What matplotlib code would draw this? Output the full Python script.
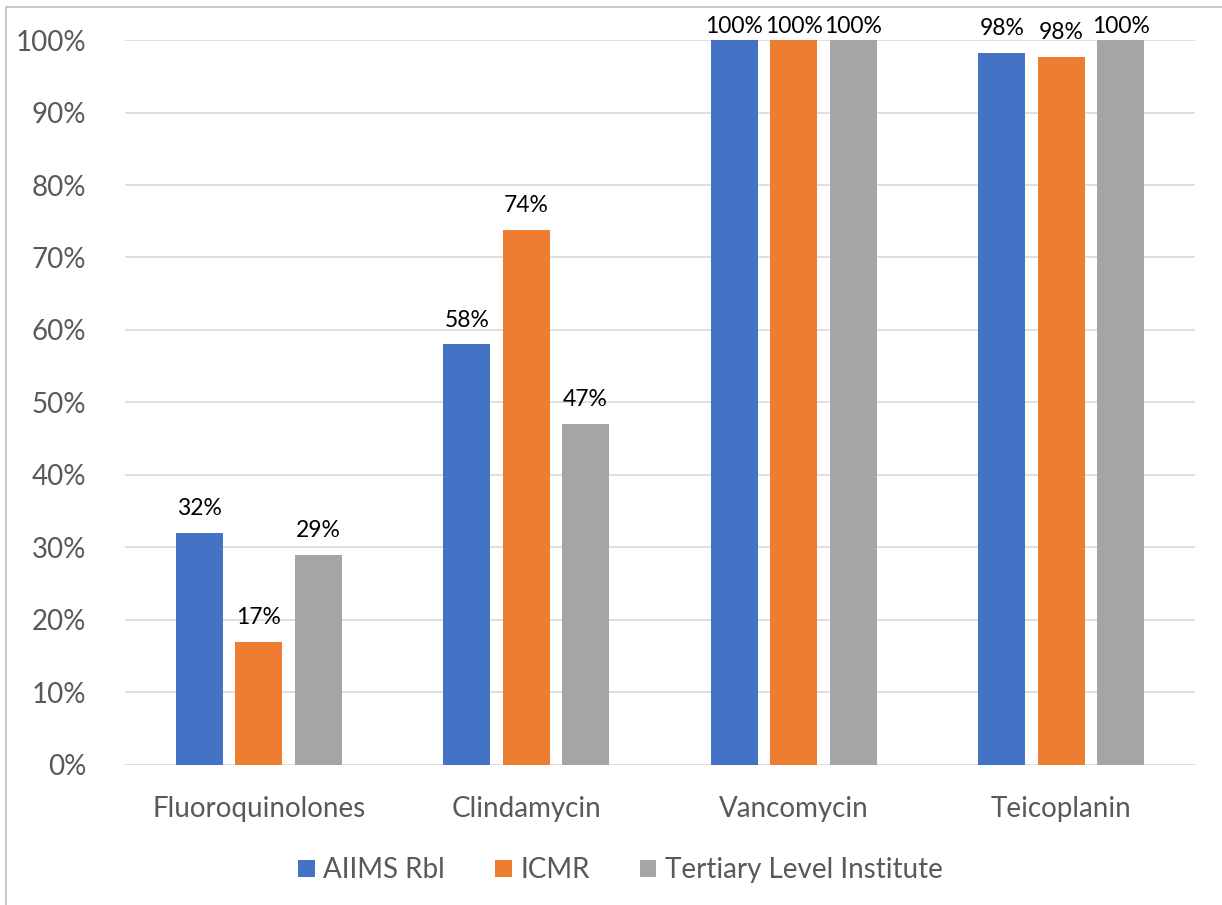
import numpy as np
import matplotlib.pyplot as plt
from matplotlib.patches import Rectangle

categories = ["Fluoroquinolones", "Clindamycin", "Vancomycin", "Teicoplanin"]
series = ["AIIMS Rbl", "ICMR", "Tertiary Level Institute"]
aiims = [32, 58, 100, 98.2]
icmr = [17, 73.8, 100, 97.7]
tertiary = [29, 47, 100, 100]
labels_aiims = ["32%", "58%", "100%", "98%"]
labels_icmr = ["17%", "74%", "100%", "98%"]
labels_tertiary = ["29%", "47%", "100%", "100%"]

colors = ["#4472C4", "#ED7D31", "#A5A5A5"]
plt.rcParams['font.family'] = ['Lato', 'DejaVu Sans']

fig = plt.figure(figsize=(12.22, 9.05), dpi=100)
ax = fig.add_axes([0.1023, 0.1547, 0.8756, 0.8011])

x = np.arange(len(categories))
width = 0.176
offset = 0.222
for i, (vals, labs) in enumerate(zip([aiims, icmr, tertiary],
                                     [labels_aiims, labels_icmr, labels_tertiary])):
    pos = x + (i - 1) * offset
    ax.bar(pos, vals, width, color=colors[i], label=series[i], zorder=2)
    for p, v, t in zip(pos, vals, labs):
        # labels at the very top get pushed down like Excel does
        dy = 2 if v >= 99.5 else 10
        ax.annotate(t, (p, v), xytext=(0, dy), textcoords="offset points",
                    ha="center", va="bottom", fontsize=16.5, color="black",
                    annotation_clip=False)

ax.set_xlim(-0.5, 3.5)
ax.set_ylim(0, 100)
ax.set_yticks(range(0, 101, 10))
ax.set_yticklabels([f"{v}%" for v in range(0, 101, 10)])
ax.set_xticks(x)
ax.set_xticklabels(categories)
ax.tick_params(axis="both", length=0, labelsize=20, colors="#595959")
ax.tick_params(axis="y", pad=28)
ax.tick_params(axis="x", pad=22)
ax.grid(axis="y", color="#D9D9D9", linewidth=1.2, zorder=0)
for s in ax.spines.values():
    s.set_visible(False)

leg = ax.legend(loc="upper center", bbox_to_anchor=(0.463, -0.093), ncol=3,
                frameon=False, fontsize=20, handlelength=0.6, handleheight=0.6,
                handletextpad=0.3, columnspacing=1.8)
for t in leg.get_texts():
    t.set_color("#595959")

fig.patches.append(Rectangle((6 / 1222, -0.1), 1.2, 1 - 7 / 905 + 0.1,
                             transform=fig.transFigure, fill=False,
                             edgecolor="#BFBFBF", linewidth=1.2))

fig.savefig("out.png", dpi=100)
